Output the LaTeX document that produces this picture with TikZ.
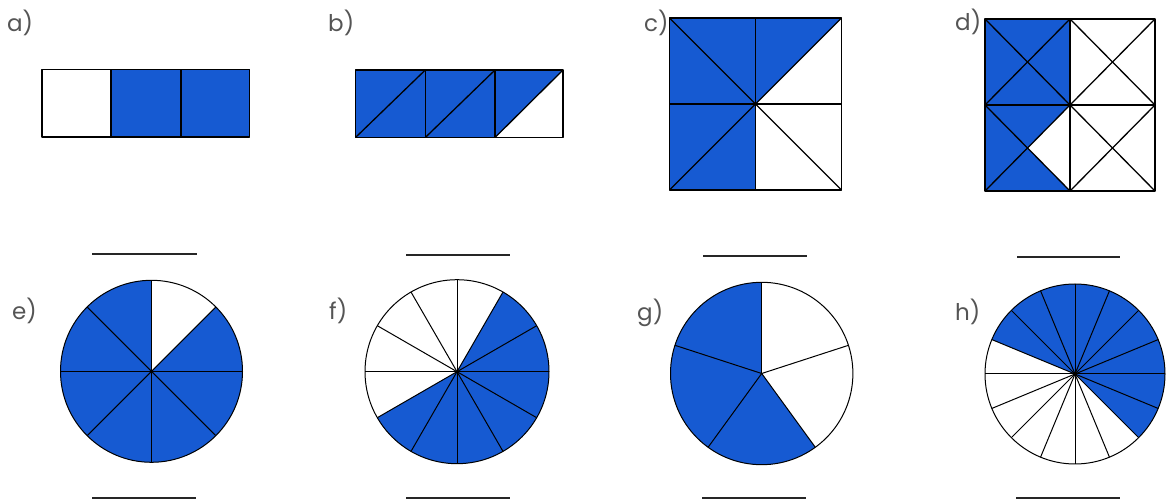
\documentclass[tikz,border=0pt]{standalone}
\usepackage{fontspec}
\setmainfont{Poppins}
\definecolor{fblue}{RGB}{22,90,210}
\definecolor{lblgray}{RGB}{85,85,85}
\tikzset{
  part/.style={draw=black, line width=1.3pt, line join=round},
  thin part/.style={draw=black, line width=1pt, line join=round},
  blue part/.style={fill=fblue},
  lbl/.style={anchor=west, inner sep=0pt, text=lblgray, font=\fontsize{23}{23}\selectfont},
  blank/.style={draw=black!85, line width=1.8pt}
}
\begin{document}
\begin{tikzpicture}[x=1pt,y=1pt]
\useasboundingbox (0,0) rectangle (1168,-502);
\fill[white] (0,0) rectangle (1168,-502);

% ---------- labels ----------
\node[lbl] (la) at (7,-23) {a)};
\node[lbl] (lb) at (328,-23) {b)};
\node[lbl] (lc) at (644,-23) {c)};
\node[lbl] (ld) at (955,-22) {d)};
\node[lbl] (le) at (12,-311) {e)};
\node[lbl] (lf) at (329,-311) {f)};
\node[lbl] (lg) at (637,-313) {g)};
\node[lbl] (lh) at (955,-312) {h)};

% ---------- blanks ----------
\coordinate (ba1) at (92,-254); \coordinate (ba2) at (197,-254);
\coordinate (bb1) at (406,-255); \coordinate (bb2) at (510,-255);
\coordinate (bc1) at (703,-256); \coordinate (bc2) at (807,-256);
\coordinate (bd1) at (1017,-257); \coordinate (bd2) at (1120,-257);
\coordinate (be1) at (92,-498); \coordinate (be2) at (196,-498);
\coordinate (bf1) at (406,-498); \coordinate (bf2) at (510,-498);
\coordinate (bg1) at (702,-498); \coordinate (bg2) at (806,-498);
\coordinate (bh1) at (1016,-498); \coordinate (bh2) at (1120,-498);
\foreach \b in {a,b,c,d,e,f,g,h} \draw[blank] (b\b1) -- (b\b2);

% ---------- a) ----------
\fill[blue part] (111,-69.5) rectangle (249.5,-137);
\draw[part] (42,-69.5) rectangle (249.5,-137);
\draw[part] (111,-69.5) -- (111,-137);
\draw[part] (181,-69.5) -- (181,-137);

% ---------- b) ----------
\fill[blue part] (355.5,-70) -- (563,-70) -- (495,-137.5) -- (355.5,-137.5) -- cycle;
\draw[part] (355.5,-70) rectangle (563,-137.5);
\draw[part] (425.3,-70) -- (425.3,-137.5);
\draw[part] (495,-70) -- (495,-137.5);
\draw[part] (355.5,-137.5) -- (425.3,-70);
\draw[part] (425.3,-137.5) -- (495,-70);
\draw[part] (495,-137.5) -- (563,-70);

% ---------- c) ----------
\fill[blue part] (669.5,-18) -- (841.5,-18) -- (755.5,-104) -- (755.5,-190) -- (669.5,-190) -- cycle;
\draw[part] (669.5,-18) rectangle (841.5,-190);
\draw[part] (755.5,-18) -- (755.5,-190);
\draw[part] (669.5,-104) -- (841.5,-104);
\draw[part] (669.5,-18) -- (841.5,-190);
\draw[part] (669.5,-190) -- (841.5,-18);

% ---------- d) ----------
\fill[blue part] (985,-19) -- (1070,-19) -- (1070,-105) -- (1027.5,-148) -- (1070,-191) -- (985,-191) -- cycle;
\draw[part] (985,-19) rectangle (1155,-191);
\draw[part] (1070,-19) -- (1070,-191);
\draw[part] (985,-105) -- (1155,-105);
\draw[part] (985,-19) -- (1070,-105) -- (1155,-19);
\draw[part] (985,-105) -- (1070,-19) -- (1155,-105);
\draw[part] (985,-105) -- (1070,-191) -- (1155,-105);
\draw[part] (985,-191) -- (1070,-105) -- (1155,-191);

% ---------- e) 8 sectors ----------
\begin{scope}[shift={(151.5,-371.3)}]
  \fill[blue part] (0,0) -- (90:91) arc[start angle=90, end angle=405, radius=91] -- cycle;
  \foreach \a in {0,45,...,315} \draw[thin part] (0,0) -- (\a:91);
  \draw[thin part] (0,0) circle[radius=91];
\end{scope}

% ---------- f) 12 sectors ----------
\begin{scope}[shift={(457,-371.7)}]
  \fill[blue part] (0,0) -- (210:92) arc[start angle=210, end angle=420, radius=92] -- cycle;
  \foreach \a in {0,30,...,330} \draw[thin part] (0,0) -- (\a:92);
  \draw[thin part] (0,0) circle[radius=92];
\end{scope}

% ---------- g) 5 sectors ----------
\begin{scope}[shift={(761.7,-373.5)}]
  \fill[blue part] (0,0) -- (90:91.2) arc[start angle=90, end angle=306, radius=91.2] -- cycle;
  \foreach \a in {18,90,162,234,306} \draw[thin part] (0,0) -- (\a:91.2);
  \draw[thin part] (0,0) circle[radius=91.2];
\end{scope}

% ---------- h) 16 sectors ----------
\begin{scope}[shift={(1075,-374)}]
  \fill[blue part] (0,0) -- (-45:90) arc[start angle=-45, end angle=157.5, radius=90] -- cycle;
  \foreach \i in {0,...,15} \draw[thin part] (0,0) -- (\i*22.5:90);
  \draw[thin part] (0,0) circle[radius=90];
\end{scope}
\end{tikzpicture}
\end{document}
